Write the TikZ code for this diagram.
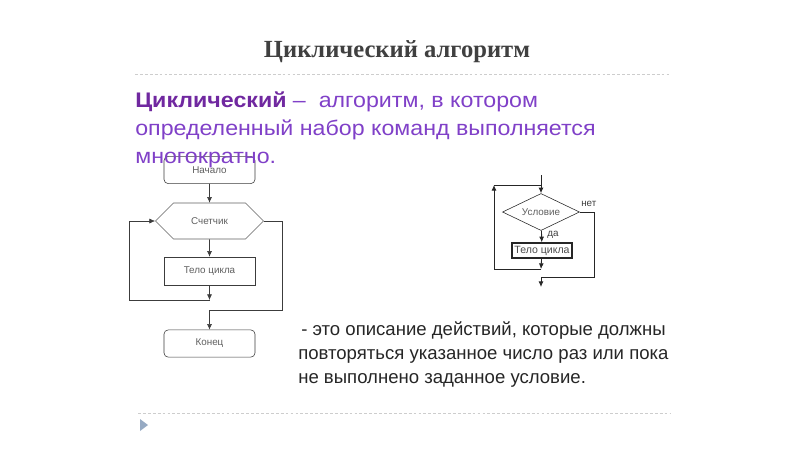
\documentclass[tikz,border=0pt]{standalone}
\usepackage{fontspec}
\setmainfont{Liberation Sans}
\newfontfamily\titlefont{Liberation Serif}
\usetikzlibrary{shapes.geometric,shapes.symbols,arrows.meta}

\definecolor{titlegray}{RGB}{64,64,64}
\definecolor{defpurple}{RGB}{112,40,160}
\definecolor{txtpurple}{RGB}{128,64,200}
\definecolor{linegray}{RGB}{60,60,60}
\definecolor{boxtext}{RGB}{95,95,95}
\definecolor{rulegray}{RGB}{205,205,205}
\definecolor{icon}{RGB}{150,170,195}

\tikzstyle{boxfont}=[font=\fontsize{7}{8}\selectfont,text=boxtext]
\tikzstyle{startstop}=[draw=linegray,rectangle,rounded corners=3pt,minimum width=2.275cm,minimum height=0.68cm,inner sep=0pt,boxfont]
\tikzstyle{process}=[draw=linegray,rectangle,minimum width=2.275cm,minimum height=0.7cm,inner sep=0pt,boxfont]
\tikzstyle{counter}=[draw=linegray!80,signal,signal to=west and east,signal pointer angle=90,minimum width=2.7cm,minimum height=0.9cm,inner sep=0pt,boxfont]
\tikzstyle{decision}=[draw=black!85,diamond,aspect=2,inner sep=0pt,minimum width=1.925cm,minimum height=0.925cm,boxfont]
\tikzstyle{loopbody}=[draw=black!85,line width=1pt,rectangle,minimum width=1.5cm,minimum height=0.375cm,inner sep=0pt,font=\fontsize{7.5}{8}\selectfont,text=black!70]
\tikzstyle{smalllabel}=[font=\fontsize{7}{8}\selectfont,text=black!75,inner sep=0pt]
\tikzstyle{rule}=[rulegray,line width=0.6pt,dash pattern=on 2pt off 1.5pt]
\tikzstyle{deftext}=[anchor=base west,inner sep=0pt,xscale=1.1,font=\fontsize{15}{18}\selectfont,text=txtpurple]
\tikzstyle{desctext}=[anchor=base west,inner sep=0pt,font=\fontsize{13.2}{16}\selectfont,text=black!85]

\begin{document}
\begin{tikzpicture}[x=0.025cm,y=-0.025cm]
	\useasboundingbox (0,0) rectangle (800,450);
	\fill[white] (0,0) rectangle (800,450);
	\begin{scope}[>={Latex[length=4pt,width=3.5pt]}] %filled arrow tips
		% left chart: counter loop
		\node (start)[startstop] at (209.5,170) {Начало};
		\node (cnt)[counter] at (209.5,221) {Счетчик};
		\node (body)[process] at (209.5,271) {Тело цикла};
		\node (fin)[startstop] at (209.5,343.5) {Конец};
		\coordinate (j1) at (209.5,300);
		\coordinate (lt) at (129,221);
		\coordinate (rb) at (282,310);
		\coordinate (j2) at (209.5,310);
		\draw[->,linegray] (start) -- (cnt);
		\draw[->,linegray] (cnt) -- (body);
		\draw[->,linegray] (body) -- (j1);
		\draw[->,linegray] (j1) -| (lt) -- (cnt.west);
		\draw[linegray] (cnt.east) -| (rb) -- (j2);
		\draw[->,linegray] (j2) -- (fin);

		% right chart: condition loop
		\node (cond)[decision] at (541,212) {Условие};
		\node (body2)[loopbody] at (542,250.5) {Тело цикла};
		\node (no)[smalllabel,anchor=base west] at (581,206) {нет};
		\node (yes)[smalllabel,anchor=base west] at (547,236) {да};
		\coordinate (entry) at (541,175);
		\coordinate (jt) at (541,185);
		\coordinate (jb) at (541,269);
		\coordinate (ltop) at (494,185);
		\coordinate (rn) at (594,277);
		\coordinate (jn) at (541,277);
		\coordinate (exit) at (541,287);
		\draw[->,black!85,semithick] (entry) -- (cond);
		\draw[->,black!85,semithick] (cond) -- (body2);
		\draw[->,black!85,semithick] (body2) -- (jb);
		\draw[->,black!85,semithick] (jb) -| (ltop);
		\draw[black!85,semithick] (ltop) -- (jt);
		\draw[black!85,semithick] (cond.east) -| (rn) -- (jn);
		\draw[->,black!85,semithick] (jn) -- (exit);
	\end{scope}

	% heading and texts
	\node (title)[anchor=base,font=\titlefont\bfseries\fontsize{17.5}{20}\selectfont,text=titlegray] at (397,57) {Циклический алгоритм};
	\draw[rule] (135,74) -- (670,74);
	\draw[rule] (138,413) -- (670,413);
	\fill[icon] (140,419) -- (148,425) -- (140,431) -- cycle;

	\node (def1)[deftext] at (135,107)
		{\textbf{\color{defpurple}Циклический} –\ \ алгоритм, в котором};
	\node (def2)[deftext] at (135,135) {определенный набор команд выполняется};
	\node (def3)[deftext] at (135,163) {многократно.};

	\node (desc1)[desctext] at (301,335) {- это описание действий, которые должны};
	\node (desc2)[desctext] at (298,359) {повторяться указанное число раз или пока};
	\node (desc3)[desctext] at (298,383) {не выполнено заданное условие.};
\end{tikzpicture}
\end{document}
